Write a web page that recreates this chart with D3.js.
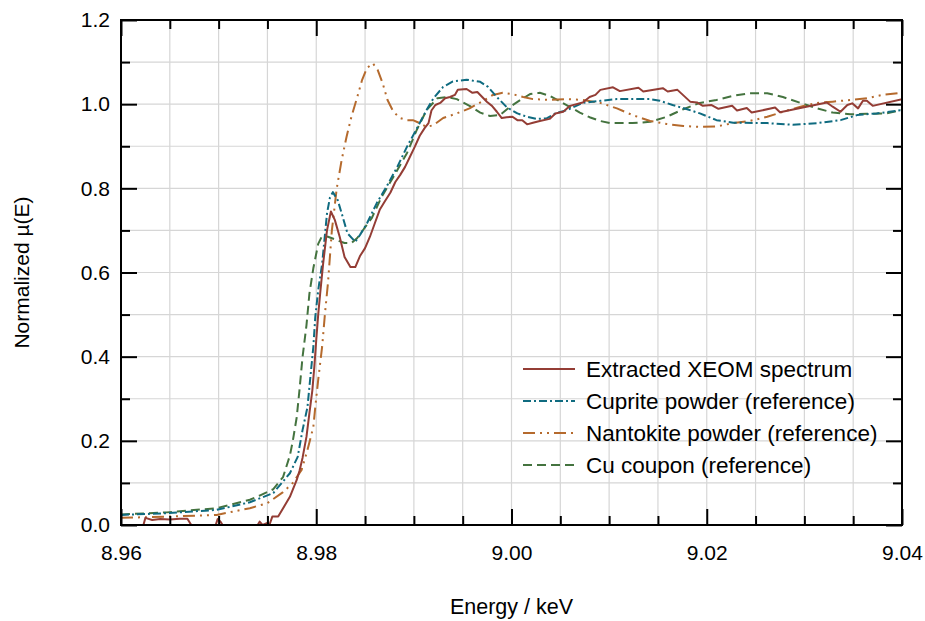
<!DOCTYPE html>
<html>
<head>
<meta charset="utf-8">
<script src="https://cdn.jsdelivr.net/npm/d3@7"></script>
<style>
  body { margin: 0; background: #fff; }
  text { font-family: "Liberation Sans", Arial, Helvetica, sans-serif; fill: #000; }
</style>
</head>
<body>
<svg id="chart" width="925" height="621"></svg>
<script>
// Axis tick labels
const energyTicks = [8.96, 8.98, 9.00, 9.02, 9.04];
const muTicks = [0.0, 0.2, 0.4, 0.6, 0.8, 1.0, 1.2];

// Series names (legend order)
const seriesNames = [
  "Extracted XEOM spectrum",
  "Cuprite powder (reference)",
  "Nantokite powder (reference)",
  "Cu coupon (reference)"
];

// Extracted XEOM spectrum: [energy keV, normalized mu(E)]
const xeomSpectrum = [
  [8.9623,0.000],[8.9625,0.017],[8.9632,0.012],[8.9640,0.014],[8.9650,0.013],[8.9660,0.015],
  [8.9668,0.015],[8.9672,0.000],[8.9697,0.000],[8.9699,0.014],[8.9702,0.008],[8.9704,0.000],
  [8.9740,0.000],[8.9742,0.008],[8.9745,0.000],[8.9750,0.005],[8.9752,0.000],[8.9755,0.020],
  [8.9761,0.020],[8.9773,0.067],[8.9780,0.107],[8.9783,0.130],[8.9786,0.160],[8.9790,0.210],
  [8.9793,0.266],[8.9796,0.320],[8.9798,0.375],[8.9800,0.440],[8.9802,0.500],[8.9804,0.550],
  [8.9807,0.620],[8.9811,0.700],[8.9815,0.745],[8.9819,0.725],[8.9824,0.685],[8.9829,0.637],
  [8.9835,0.613],[8.9840,0.613],[8.9845,0.640],[8.9850,0.658],[8.9855,0.685],[8.9860,0.717],
  [8.9865,0.749],[8.9870,0.768],[8.9876,0.790],[8.9881,0.815],[8.9886,0.832],[8.9891,0.851],
  [8.9896,0.875],[8.9901,0.899],[8.9906,0.925],[8.9911,0.943],[8.9915,0.955],[8.9918,0.985],
  [8.9922,0.998],[8.9927,1.003],[8.9932,1.014],[8.9937,1.017],[8.9942,1.022],[8.9945,1.034],
  [8.9954,1.036],[8.9960,1.027],[8.9965,1.029],[8.9970,1.017],[8.9975,1.005],[8.9980,0.996],
  [8.9985,0.982],[8.9990,0.967],[8.9995,0.969],[9.0001,0.970],[9.0006,0.962],[9.0011,0.962],
  [9.0016,0.952],[9.0022,0.956],[9.0029,0.960],[9.0039,0.965],[9.0045,0.978],[9.0053,0.982],
  [9.0060,0.996],[9.0073,1.004],[9.0080,1.017],[9.0086,1.022],[9.0091,1.034],[9.0104,1.040],
  [9.0111,1.031],[9.0130,1.039],[9.0135,1.030],[9.0155,1.038],[9.0160,1.030],[9.0170,1.034],
  [9.0183,1.006],[9.0190,1.004],[9.0196,0.996],[9.0205,0.998],[9.0212,0.989],[9.0226,0.996],
  [9.0231,0.985],[9.0241,0.991],[9.0246,0.980],[9.0270,0.992],[9.0275,0.981],[9.0323,1.004],
  [9.0329,0.994],[9.0337,0.982],[9.0344,0.998],[9.0349,1.002],[9.0355,0.990],[9.0360,1.008],
  [9.0364,1.008],[9.0370,0.996],[9.0400,1.012]
];

// Cuprite powder reference
const cupriteRef = [
  [8.9600,0.024],[8.9647,0.028],[8.9698,0.036],[8.9732,0.054],[8.9756,0.076],[8.9773,0.123],
  [8.9781,0.162],[8.9786,0.226],[8.9791,0.280],[8.9794,0.352],[8.9797,0.423],[8.9799,0.494],
  [8.9802,0.558],[8.9806,0.620],[8.9811,0.740],[8.9814,0.778],[8.9817,0.791],[8.9822,0.772],
  [8.9827,0.733],[8.9832,0.693],[8.9840,0.673],[8.9845,0.690],[8.9852,0.717],[8.9862,0.765],
  [8.9872,0.804],[8.9883,0.851],[8.9893,0.899],[8.9903,0.942],[8.9913,0.986],[8.9920,1.014],
  [8.9930,1.041],[8.9940,1.054],[8.9954,1.058],[8.9968,1.053],[8.9976,1.041],[8.9985,1.017],
  [8.9995,0.993],[9.0006,0.978],[9.0016,0.970],[9.0026,0.965],[9.0036,0.966],[9.0045,0.978],
  [9.0057,0.986],[9.0073,1.003],[9.0091,1.008],[9.0108,1.012],[9.0124,1.012],[9.0142,1.012],
  [9.0152,1.008],[9.0165,0.998],[9.0180,0.988],[9.0193,0.978],[9.0210,0.962],[9.0227,0.956],
  [9.0262,0.955],[9.0288,0.951],[9.0313,0.955],[9.0337,0.962],[9.0354,0.974],[9.0374,0.978],
  [9.0400,0.986]
];

// Nantokite powder reference
const nantokiteRef = [
  [8.9600,0.017],[8.9647,0.020],[8.9698,0.024],[8.9732,0.040],[8.9750,0.052],[8.9766,0.078],
  [8.9776,0.100],[8.9785,0.131],[8.9791,0.178],[8.9797,0.233],[8.9799,0.280],[8.9802,0.345],
  [8.9806,0.423],[8.9809,0.504],[8.9812,0.575],[8.9816,0.700],[8.9821,0.800],[8.9826,0.867],
  [8.9831,0.922],[8.9836,0.970],[8.9842,1.017],[8.9847,1.058],[8.9852,1.086],[8.9858,1.097],
  [8.9863,1.081],[8.9868,1.050],[8.9873,1.010],[8.9879,0.982],[8.9886,0.967],[8.9893,0.962],
  [8.9899,0.962],[8.9906,0.955],[8.9913,0.946],[8.9920,0.950],[8.9930,0.967],[8.9944,0.978],
  [8.9957,0.990],[8.9971,1.008],[8.9981,1.022],[8.9991,1.027],[9.0001,1.024],[9.0012,1.017],
  [9.0022,1.012],[9.0039,1.010],[9.0057,1.012],[9.0073,1.010],[9.0091,1.003],[9.0108,0.990],
  [9.0124,0.974],[9.0142,0.960],[9.0159,0.953],[9.0176,0.948],[9.0193,0.946],[9.0210,0.947],
  [9.0227,0.955],[9.0244,0.960],[9.0262,0.970],[9.0278,0.982],[9.0296,0.994],[9.0313,1.003],
  [9.0329,1.006],[9.0347,1.010],[9.0364,1.014],[9.0380,1.022],[9.0400,1.027]
];

// Cu coupon reference
const cuCouponRef = [
  [8.9600,0.025],[8.9647,0.030],[8.9698,0.040],[8.9732,0.060],[8.9742,0.070],[8.9756,0.085],
  [8.9766,0.114],[8.9773,0.165],[8.9776,0.200],[8.9780,0.256],[8.9783,0.325],[8.9786,0.400],
  [8.9790,0.475],[8.9793,0.550],[8.9797,0.610],[8.9802,0.668],[8.9806,0.687],[8.9812,0.685],
  [8.9821,0.677],[8.9829,0.670],[8.9836,0.670],[8.9842,0.682],[8.9848,0.701],[8.9857,0.730],
  [8.9867,0.780],[8.9879,0.827],[8.9893,0.884],[8.9903,0.939],[8.9913,0.986],[8.9924,1.014],
  [8.9934,1.017],[8.9944,1.012],[8.9957,0.996],[8.9968,0.980],[8.9978,0.972],[8.9988,0.974],
  [8.9998,0.993],[9.0009,1.010],[9.0019,1.024],[9.0029,1.027],[9.0039,1.020],[9.0050,1.006],
  [9.0060,0.993],[9.0070,0.980],[9.0080,0.969],[9.0091,0.960],[9.0101,0.955],[9.0124,0.955],
  [9.0142,0.958],[9.0159,0.970],[9.0176,0.988],[9.0193,1.003],[9.0210,1.010],[9.0227,1.020],
  [9.0244,1.026],[9.0262,1.026],[9.0278,1.017],[9.0296,1.003],[9.0313,0.990],[9.0329,0.980],
  [9.0347,0.976],[9.0364,0.977],[9.0384,0.978],[9.0400,0.986]
];

const series = [
  { name: seriesNames[0], data: xeomSpectrum, color: "#943d35", dash: null },
  { name: seriesNames[1], data: cupriteRef,   color: "#0f6b80", dash: "8,3,2,3" },
  { name: seriesNames[2], data: nantokiteRef, color: "#b56a2d", dash: "12,5,2,5,2,5" },
  { name: seriesNames[3], data: cuCouponRef,  color: "#44733f", dash: "9,5" }
];

const svg = d3.select("#chart");
const plot = { left: 121, top: 20, right: 902, bottom: 525 };

const x = d3.scaleLinear().domain([8.96, 9.04]).range([plot.left, plot.right]);
const y = d3.scaleLinear().domain([0, 1.2]).range([plot.bottom, plot.top]);

const gridX = d3.range(0, 17).map(i => +(8.96 + i * 0.005).toFixed(3));
const gridY = d3.range(0, 13).map(i => +(i * 0.1).toFixed(1));
const minorX = gridX.filter(v => !energyTicks.some(t => Math.abs(t - v) < 1e-9));
const minorY = gridY.filter(v => !muTicks.some(t => Math.abs(t - v) < 1e-9));

// Grid
const grid = svg.append("g").attr("stroke", "#d6d6d6").attr("stroke-width", 1.2);
grid.selectAll("line.gx").data(gridX).join("line")
  .attr("x1", d => x(d)).attr("x2", d => x(d))
  .attr("y1", plot.top).attr("y2", plot.bottom);
grid.selectAll("line.gy").data(gridY).join("line")
  .attr("y1", d => y(d)).attr("y2", d => y(d))
  .attr("x1", plot.left).attr("x2", plot.right);

// Data lines, clipped to the plot frame
svg.append("clipPath").attr("id", "clip").append("rect")
  .attr("x", plot.left).attr("y", plot.top)
  .attr("width", plot.right - plot.left).attr("height", plot.bottom - plot.top);

const line = d3.line().x(d => x(d[0])).y(d => y(d[1]));
const lines = svg.append("g").attr("clip-path", "url(#clip)");
// references underneath, extracted spectrum on top
[series[3], series[2], series[1], series[0]].forEach(s => {
  lines.append("path")
    .attr("d", line(s.data))
    .attr("fill", "none")
    .attr("stroke", s.color)
    .attr("stroke-width", 2)
    .attr("stroke-linejoin", "round")
    .attr("stroke-dasharray", s.dash);
});

// Axes with inward ticks on all four sides
function styleAxis(g) {
  g.select(".domain").remove();
  g.selectAll(".tick line").attr("stroke", "#000").attr("stroke-width", 2);
  g.selectAll("text").style("font-size", "21px").attr("fill", "#000");
}
const axes = svg.append("g");
axes.append("g").attr("transform", `translate(0,${plot.bottom})`)
  .call(d3.axisBottom(x).tickValues(energyTicks).tickFormat(d3.format(".2f")).tickSize(-16).tickPadding(20))
  .call(styleAxis);
axes.append("g").attr("transform", `translate(0,${plot.bottom})`)
  .call(d3.axisBottom(x).tickValues(minorX).tickFormat("").tickSize(-9))
  .call(styleAxis);
axes.append("g").attr("transform", `translate(0,${plot.top})`)
  .call(d3.axisTop(x).tickValues(energyTicks).tickFormat("").tickSize(-16))
  .call(styleAxis);
axes.append("g").attr("transform", `translate(0,${plot.top})`)
  .call(d3.axisTop(x).tickValues(minorX).tickFormat("").tickSize(-9))
  .call(styleAxis);
axes.append("g").attr("transform", `translate(${plot.left},0)`)
  .call(d3.axisLeft(y).tickValues(muTicks).tickFormat(d3.format(".1f")).tickSize(-16).tickPadding(11))
  .call(styleAxis);
axes.append("g").attr("transform", `translate(${plot.left},0)`)
  .call(d3.axisLeft(y).tickValues(minorY).tickFormat("").tickSize(-9))
  .call(styleAxis);
axes.append("g").attr("transform", `translate(${plot.right},0)`)
  .call(d3.axisRight(y).tickValues(muTicks).tickFormat("").tickSize(-16))
  .call(styleAxis);
axes.append("g").attr("transform", `translate(${plot.right},0)`)
  .call(d3.axisRight(y).tickValues(minorY).tickFormat("").tickSize(-9))
  .call(styleAxis);

// Frame
svg.append("rect")
  .attr("x", plot.left).attr("y", plot.top)
  .attr("width", plot.right - plot.left).attr("height", plot.bottom - plot.top)
  .attr("fill", "none").attr("stroke", "#000").attr("stroke-width", 2);

// Axis titles
svg.append("text")
  .attr("x", (plot.left + plot.right) / 2).attr("y", 614)
  .attr("text-anchor", "middle").style("font-size", "21.5px")
  .text("Energy / keV");
svg.append("text")
  .attr("transform", `translate(29,${(plot.top + plot.bottom) / 2}) rotate(-90)`)
  .attr("text-anchor", "middle").style("font-size", "21px")
  .text("Normalized \u00b5(E)");

// Legend
const legend = svg.append("g");
const rowY = [369, 401, 433, 465];
series.forEach((s, i) => {
  legend.append("line")
    .attr("x1", 523).attr("x2", 575)
    .attr("y1", rowY[i]).attr("y2", rowY[i])
    .attr("stroke", s.color).attr("stroke-width", 2)
    .attr("stroke-dasharray", s.dash);
  legend.append("text")
    .attr("x", 586).attr("y", rowY[i]).attr("dy", "0.35em")
    .style("font-size", "22.5px")
    .text(s.name);
});
</script>
</body>
</html>
